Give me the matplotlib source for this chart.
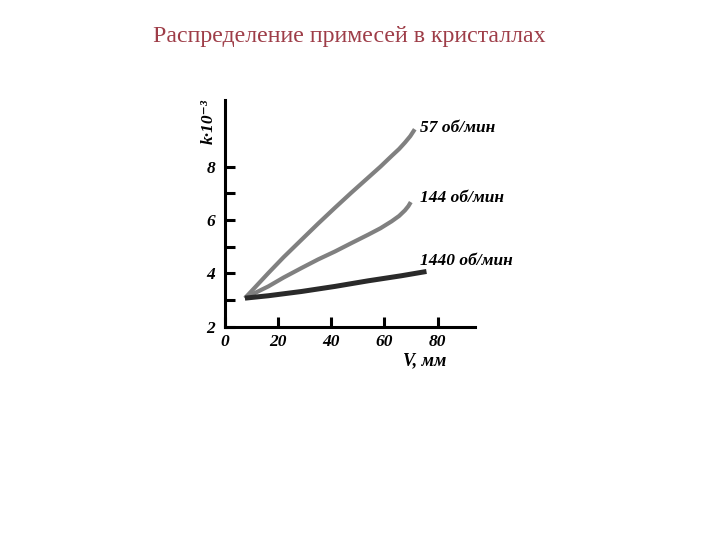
import matplotlib.pyplot as plt

# Readings from the picture
x_57 = [7.5, 12.0, 16.3, 22.0, 28.8, 35.0, 41.4, 47.5, 53.9, 58.5, 62.7, 65.5, 67.7, 69.7, 71.4]
k_57 = [3.07, 3.55, 4.01, 4.60, 5.26, 5.86, 6.46, 7.02, 7.59, 8.00, 8.40, 8.66, 8.90, 9.14, 9.40]

x_144 = [7.5, 12.0, 16.3, 22.0, 28.8, 35.0, 41.4, 47.5, 53.9, 58.5, 62.7, 65.5, 67.7, 69.0, 69.9]
k_144 = [3.07, 3.30, 3.51, 3.84, 4.20, 4.52, 4.82, 5.13, 5.45, 5.69, 5.95, 6.15, 6.36, 6.52, 6.67]

x_1440 = [7.5, 16.3, 28.8, 41.4, 53.9, 66.4, 75.8]
k_1440 = [3.07, 3.16, 3.32, 3.51, 3.72, 3.91, 4.07]

labels = ["57 об/мин", "144 об/мин", "1440 об/мин"]
label_y = [9.44, 6.81, 4.47]
x_ticks = [0, 20, 40, 60, 80]
y_ticks = [2, 4, 6, 8]

serif = ['Liberation Serif', 'DejaVu Serif']
plt.rcParams['font.family'] = serif

fig = plt.figure(figsize=(7.2, 5.4), dpi=100)
fig.text(0.485, 0.933, "Распределение примесей в кристаллах", ha='center',
         va='center', fontsize=17.2, color='#9e3d48')

ax = fig.add_axes([0.3125, 0.395, 0.347, 0.42])

ax.plot(x_57, k_57, color='#808080', lw=3.0, solid_capstyle='butt', solid_joinstyle='round')
ax.plot(x_144, k_144, color='#808080', lw=3.0, solid_capstyle='butt', solid_joinstyle='round')
ax.plot(x_1440, k_1440, color='#2a2a2a', lw=3.6, solid_capstyle='butt', solid_joinstyle='round')

for lab, yy in zip(labels, label_y):
    ax.text(73.3, yy, lab, fontsize=12.5, fontweight='bold', style='italic',
            va='center', ha='left')

ax.set_xlim(0, 94)
ax.set_ylim(2, 10.5)
ax.set_xticks(x_ticks)
ax.set_yticks(y_ticks)
ax.set_yticks([3, 5, 7], minor=True)
ax.tick_params(direction='in', length=7, width=2.2, labelsize=12.5, pad=7)
ax.tick_params(axis='x', pad=5)
ax.tick_params(which='minor', direction='in', length=7, width=2.2)
for lbl in ax.get_xticklabels() + ax.get_yticklabels():
    lbl.set_fontweight('bold')
    lbl.set_fontstyle('italic')

for s in ['top', 'right']:
    ax.spines[s].set_visible(False)
for s in ['left', 'bottom']:
    ax.spines[s].set_linewidth(2.2)

fig.text(0.59, 0.332, "V, мм", fontsize=13, fontweight='bold', style='italic',
         ha='center', va='center')
fig.text(0.29, 0.775, "k·10⁻³", fontsize=12.5, fontweight='bold', style='italic',
         rotation=90, ha='center', va='center')

fig.savefig('out.png', dpi=100)
